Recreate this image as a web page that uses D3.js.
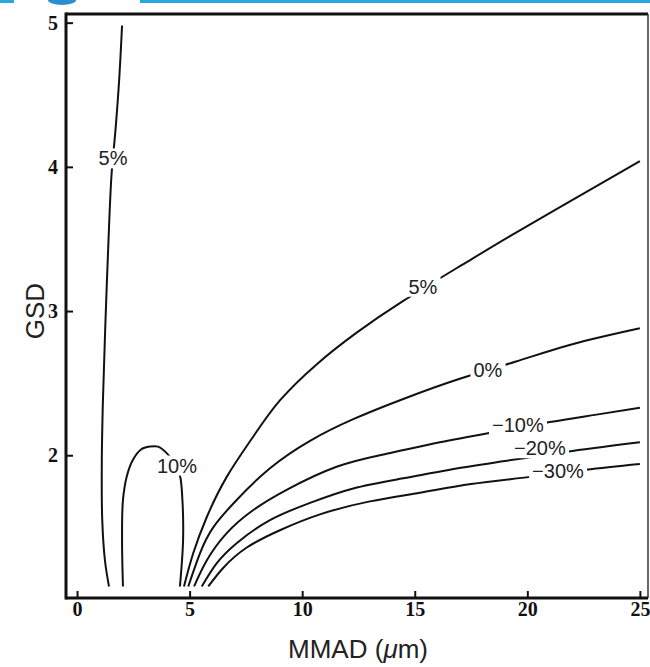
<!DOCTYPE html>
<html>
<head>
<meta charset="utf-8">
<script src="https://cdnjs.cloudflare.com/ajax/libs/d3/7.8.5/d3.min.js"></script>
<style>
  body { margin: 0; background: #fff; }
  #canvas { width: 650px; height: 667px; position: relative; }
  .tick text { font-family: "Liberation Serif", serif; font-weight: bold; font-size: 20px; fill: #111; }
  .clabel { font-family: "Liberation Sans", Arial, sans-serif; font-size: 20px; fill: #222; }
  .axis-label { font-family: "Liberation Sans", Arial, sans-serif; font-size: 26px; fill: #222; }
</style>
</head>
<body>
<div id="canvas"></div>
<script>
// contour lines, [MMAD (um), GSD]
const left5 = [[2.00,4.98],[1.87,4.60],[1.71,4.26],[1.53,3.94],[1.38,3.42],[1.25,2.87],[1.15,2.38],
  [1.10,1.95],[1.12,1.55],[1.24,1.27],[1.42,1.09]];
const loop10 = [[2.04,1.09],[2.00,1.41],[2.04,1.69],[2.22,1.86],[2.49,1.97],[2.84,2.04],[3.24,2.06],
  [3.60,2.06],[3.95,2.02],[4.31,1.95],[4.57,1.86],[4.68,1.69],[4.71,1.41],[4.57,1.09]];
const right5 = [[4.75,1.09],[5.16,1.32],[5.76,1.57],[6.65,1.85],[7.83,2.13],[9.01,2.38],[10.64,2.63],
  [12.42,2.85],[14.49,3.07],[17.10,3.32],[19.23,3.52],[21.45,3.72],[25.0,4.04]];
const zero = [[4.94,1.09],[5.46,1.32],[6.05,1.50],[7.09,1.69],[8.57,1.91],[10.35,2.10],[12.27,2.25],
  [14.49,2.39],[17.0,2.53],[19.5,2.65],[22.0,2.77],[25.0,2.88]];
const minus10 = [[5.20,1.09],[5.76,1.27],[6.65,1.46],[7.83,1.62],[9.31,1.76],[11.53,1.92],[13.75,2.01],
  [16.12,2.09],[18.5,2.16],[21.0,2.23],[23.0,2.28],[25.0,2.33]];
const minus20 = [[5.54,1.09],[6.20,1.25],[7.09,1.39],[8.57,1.55],[10.35,1.67],[12.27,1.77],[14.49,1.84],
  [16.56,1.90],[19.0,1.96],[22.0,2.03],[25.0,2.09]];
const minus30 = [[5.83,1.09],[6.50,1.22],[7.54,1.36],[9.01,1.48],[10.79,1.59],[13.01,1.68],[15.23,1.74],
  [17.5,1.80],[20.12,1.85],[22.6,1.90],[25.0,1.94]];

const wiggly = [left5, loop10];
const fanned = [right5, zero, minus10, minus20, minus30];

// label text and where it sits
const labelText = ["5%", "10%", "5%", "0%", "\u221210%", "\u221220%", "\u221230%"];
const labelPos = [[1.60,4.06],[4.44,1.93],[15.36,3.17],[18.25,2.59],[19.58,2.21],[20.56,2.05],[21.36,1.89]];

const xTicks = [0, 5, 10, 15, 20, 25];
const yTicks = [2, 3, 4, 5];

const w = 650, h = 667;
const margin = { top: 14, bottom: 69, left: 66, right: 2 };
const width = w - margin.left - margin.right;
const height = h - margin.top - margin.bottom;

const svg = d3.select("#canvas").append("svg")
  .attr("width", w).attr("height", h);

// journal header remnant
svg.append("rect").attr("x", 140).attr("y", 0).attr("width", 510).attr("height", 3).style("fill", "#2aa6de");
svg.append("rect").attr("x", 0).attr("y", 0).attr("width", 14).attr("height", 3).style("fill", "#2aa6de");
svg.append("path").attr("d", "M48,0 A14,5 0 0 0 76,0 Z").style("fill", "#2a8fd0");

const chart = svg.append("g")
  .attr("transform", "translate(" + margin.left + "," + margin.top + ")");

const x = d3.scaleLinear().domain([-0.49, 25.36]).range([0, width]);
const y = d3.scaleLinear().domain([1.01, 5.06]).range([height, 0]);

const xAxis = d3.axisBottom(x).tickValues(xTicks).tickSizeInner(-7).tickSizeOuter(0).tickPadding(4)
  .tickFormat(d3.format("d"));
const yAxis = d3.axisLeft(y).tickValues(yTicks).tickSizeInner(-7).tickSizeOuter(0).tickPadding(8)
  .tickFormat(d3.format("d"));

chart.append("g").attr("class", "x axis")
  .attr("transform", "translate(0," + height + ")")
  .call(xAxis);
chart.append("g").attr("class", "y axis").call(yAxis);
chart.selectAll(".axis .domain").remove();
chart.selectAll(".axis .tick line").style("stroke", "#111").style("stroke-width", 2);

// frame
chart.append("line").attr("x1", 0).attr("x2", width).attr("y1", 0).attr("y2", 0)
  .style("stroke", "#111").style("stroke-width", 3);
chart.append("line").attr("x1", width).attr("x2", width).attr("y1", 0).attr("y2", height)
  .style("stroke", "#333").style("stroke-width", 1.5);
chart.append("line").attr("x1", 0).attr("x2", 0).attr("y1", -1.5).attr("y2", height + 1.5)
  .style("stroke", "#111").style("stroke-width", 3);
chart.append("line").attr("x1", 0).attr("x2", width).attr("y1", height).attr("y2", height)
  .style("stroke", "#111").style("stroke-width", 3);

const lineLoop = d3.line()
  .x(d => x(d[0]))
  .y(d => y(d[1]))
  .curve(d3.curveCatmullRom.alpha(0.5));

const lineFan = d3.line()
  .x(d => x(d[0]))
  .y(d => y(d[1]))
  .curve(d3.curveNatural);

function drawContours(data, gen, cls){
  chart.selectAll("." + cls)
    .data(data)
    .enter().append("path")
    .attr("class", cls)
    .attr("d", gen)
    .style("fill", "none")
    .style("stroke", "#111")
    .style("stroke-width", 2);
}
drawContours(wiggly, lineLoop, "contour-a");
drawContours(fanned, lineFan, "contour-b");

// labels with a white patch under them so the line breaks
const labels = chart.selectAll(".lab")
  .data(labelText)
  .enter().append("g").attr("class", "lab");

labels.append("rect").style("fill", "#fff");
labels.append("text")
  .attr("class", "clabel")
  .attr("x", (d, i) => x(labelPos[i][0]))
  .attr("y", (d, i) => y(labelPos[i][1]))
  .attr("text-anchor", "middle")
  .attr("dy", "0.36em")
  .text(d => d);

labels.each(function(){
  const g = d3.select(this);
  const b = g.select("text").node().getBBox();
  g.select("rect")
    .attr("x", b.x - 3).attr("y", b.y + 1)
    .attr("width", b.width + 6).attr("height", b.height - 2);
});

// axis titles
svg.append("text")
  .attr("class", "axis-label")
  .attr("text-anchor", "middle")
  .attr("transform", "translate(" + 44 + "," + (margin.top + y(3)) + ") rotate(-90)")
  .text("GSD");

const xl = svg.append("text")
  .attr("class", "axis-label")
  .attr("text-anchor", "middle")
  .attr("x", 358)
  .attr("y", 658);
xl.append("tspan").text("MMAD (");
xl.append("tspan").style("font-style", "italic").text("\u03bc");
xl.append("tspan").text("m)");
</script>
</body>
</html>
